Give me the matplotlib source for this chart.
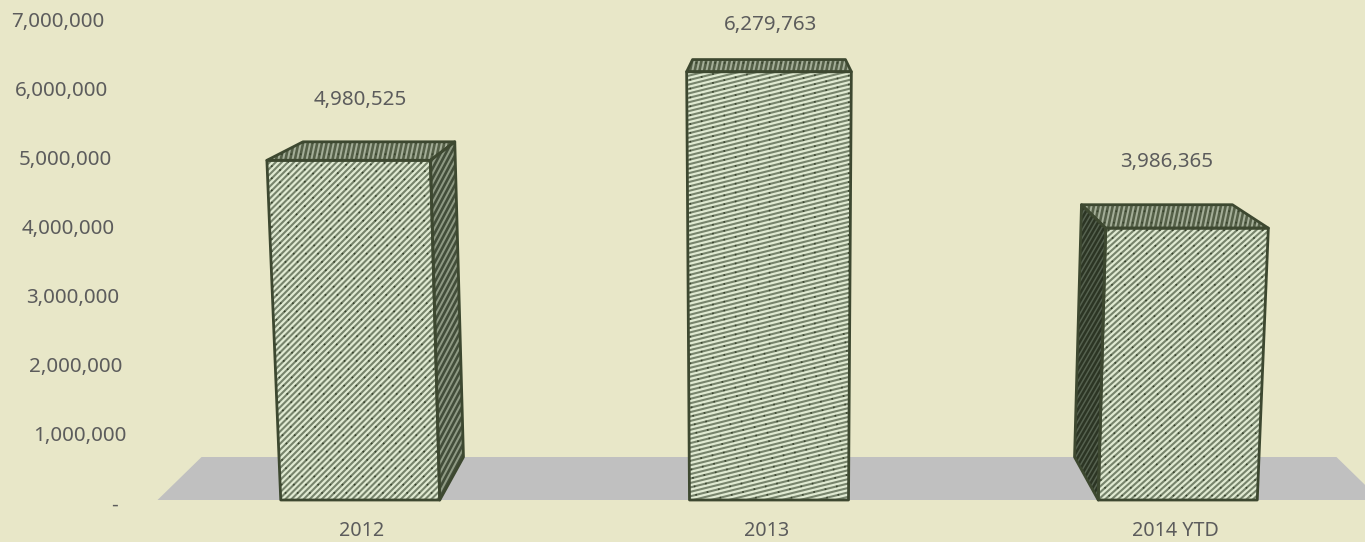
import numpy as np
import matplotlib
matplotlib.use('Agg')
import matplotlib.pyplot as plt
from matplotlib.patches import Polygon
from matplotlib.collections import LineCollection
from matplotlib.transforms import IdentityTransform

plt.rcParams['font.family'] = ['Noto Sans', 'DejaVu Sans']

# Data
categories = ['2012', '2013', '2014 YTD']
values = [4980525, 6279763, 3986365]
tick_values = [0, 1000000, 2000000, 3000000, 4000000, 5000000, 6000000, 7000000]
tick_labels = ['-', '1,000,000', '2,000,000', '3,000,000', '4,000,000', '5,000,000', '6,000,000', '7,000,000']

# Fake 3D settings
BAR_HALF = 0.1945
GROW = 0.0057e-6      # front face gets wider with height
DEPTH = 0.928         # back plane scale towards the vanishing point
VP_X = 1.0
VP_Y = 8.754e6
BG = '#e8e7c8'
EDGE = '#3d4830'
TEXT = '#5c5c5c'


def project(x, v, back=False):
    px = VP_X + (x - VP_X) * (1 + GROW * v)
    py = v
    if back:
        px = VP_X + (px - VP_X) * DEPTH
        py = VP_Y + (py - VP_Y) * DEPTH
    return px, py


def hatch(ax, patch, angle, spacing, color, lw, ls='-'):
    # stripes in pixels, clipped to the face
    a = np.radians(angle)
    d = np.array([np.cos(a), np.sin(a)])
    n = np.array([-d[1], d[0]])
    c = np.array([682, 271])
    segs = []
    for off in np.arange(-900, 900, spacing):
        mid = c + n * off
        segs.append([mid - d * 1000, mid + d * 1000])
    lines = LineCollection(segs, colors=color, linewidths=lw, linestyles=ls,
                           transform=IdentityTransform(), zorder=patch.get_zorder())
    ax.add_collection(lines, autolim=False)
    lines.set_clip_path(patch)


def face(ax, pts, fill, angle, spacing, dark, lw=1.5, dots='#39442e', z=3):
    p = Polygon(pts, closed=True, facecolor=fill, edgecolor='none', zorder=z)
    ax.add_patch(p)
    hatch(ax, p, angle, spacing, dark, lw)
    if dots:
        hatch(ax, p, angle, spacing * 2, dots, 1.2, ls=(0, (1, 6)))
    ax.add_patch(Polygon(pts, closed=True, facecolor='none', edgecolor=EDGE, lw=2, zorder=z + 1, joinstyle='round'))


fig = plt.figure(figsize=(13.65, 5.42), dpi=100, facecolor=BG)
ax = fig.add_axes([0, 0, 1, 1])
ax.set_facecolor(BG)
ax.set_xlim(1 - 769 / 408.75, 1 + 596 / 408.75)
ax.set_ylim(-42 / 68.2 * 1e6, 500 / 68.2 * 1e6)
ax.axis('off')

# Floor
floor_half = 1.496
ax.add_patch(Polygon([project(1 - floor_half, 0), project(1 + floor_half, 0),
                      project(1 + floor_half, 0, True), project(1 - floor_half, 0, True)],
                     closed=True, facecolor='#c0c0c0', edgecolor='none', zorder=1))

# Bars
front_angles = [45, 14, 42]
for i, v in enumerate(values):
    xl, xr = i - BAR_HALF, i + BAR_HALF
    fbl, fbr = project(xl, 0), project(xr, 0)
    ftl, ftr = project(xl, v), project(xr, v)
    bbl, bbr = project(xl, 0, True), project(xr, 0, True)
    btl, btr = project(xl, v, True), project(xr, v, True)
    if i == 0:
        face(ax, [fbr, ftr, btr, bbr], '#8f9a84', 62, 4.6, '#434e3a', lw=1.9, dots=None)
    if i == 2:
        face(ax, [fbl, ftl, btl, bbl], '#566250', 60, 4.0, '#2c3524', lw=1.8, dots=None)
    face(ax, [ftl, ftr, btr, btl], '#a4ae98', 78, 4.6, '#556048', lw=1.9, dots='#39442e')
    face(ax, [fbl, fbr, ftr, ftl], '#e0ead2', front_angles[i], 4.3, '#77846c', lw=1.5)

# Value labels
label_gap = [0.62e6, 0.51e6, 0.62e6]
for i, v in enumerate(values):
    btop = project(i, v, True)[1]
    ax.text(i - [0.0, -0.003, 0.027][i], btop + label_gap[i], f'{v:,}', ha='center', va='center',
            fontsize=14.8, color=TEXT)

# Category labels
for i, c in enumerate(categories):
    ax.text(i - [-0.002, 0.005, 0.005][i], -0.455e6, c, ha='center', va='center', fontsize=14.2, color=TEXT)

# Value axis, leans with the perspective
for t, lab in zip(tick_values, tick_labels):
    x, y = project(-0.564, t)
    ax.text(x - 0.03 if t == 0 else x, y * 1.0126 - 0.08e6, lab, ha='right', va='center', fontsize=14.8, color=TEXT)

fig.savefig('out.png', dpi=100, facecolor=BG)
